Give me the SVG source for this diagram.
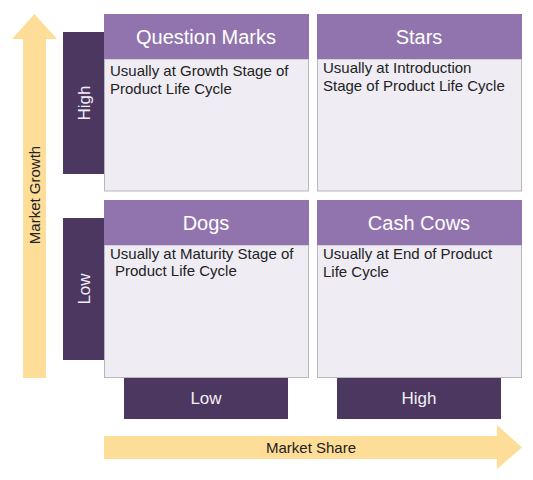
<svg xmlns="http://www.w3.org/2000/svg" width="533" height="480" viewBox="0 0 533 480">
<style>
.arrow{fill:#fedd98}
.bar{fill:#4b375f}
.head{fill:#9174ae}
.body{fill:#efecf4;stroke:#b8b8b8;stroke-width:1}
.title{font-family:"Liberation Sans",Arial,sans-serif;font-size:20px;fill:#ffffff;text-anchor:middle}
.lab{font-family:"Liberation Sans",Arial,sans-serif;font-size:17px;fill:#f2eff6;text-anchor:middle}
.txt{font-family:"Liberation Sans",Arial,sans-serif;font-size:15px;fill:#222222}
.axis{font-family:"Liberation Sans",Arial,sans-serif;font-size:15px;fill:#222222;text-anchor:middle}
</style>
<rect width="533" height="480" fill="#ffffff"/>
<g id="connectors">
<g id="market-growth">
<polygon class="arrow" points="23,378 46,378 46,39 57,39 34.5,14 12,39 23,39"/>
<text class="axis" transform="translate(40,195) rotate(-90)">Market Growth</text>
</g>
<g id="market-share">
<polygon class="arrow" points="104,436 497,436 497,425 522,447.5 497,469 497,459 104,459"/>
<text class="axis" x="311" y="453">Market Share</text>
</g>
</g>
<g id="growth-high">
<rect class="bar" x="63" y="32" width="41" height="142"/>
<text class="lab" transform="translate(90,103) rotate(-90)">High</text>
</g>
<g id="growth-low">
<rect class="bar" x="63" y="218" width="41" height="142"/>
<text class="lab" transform="translate(90,289) rotate(-90)">Low</text>
</g>
<g id="share-low">
<rect class="bar" x="124" y="378" width="164" height="41"/>
<text class="lab" x="206" y="404">Low</text>
</g>
<g id="share-high">
<rect class="bar" x="337" y="378" width="164" height="41"/>
<text class="lab" x="419" y="404">High</text>
</g>
<g id="question-marks">
<rect class="body" x="104.5" y="59" width="204" height="132"/>
<rect class="head" x="104" y="14" width="205" height="45"/>
<text class="title" x="206" y="44">Question Marks</text>
<text class="txt" x="110" y="76">Usually at Growth Stage of</text>
<text class="txt" x="110" y="94">Product Life Cycle</text>
</g>
<g id="stars">
<rect class="body" x="317.5" y="59" width="204" height="132"/>
<rect class="head" x="317" y="14" width="205" height="45"/>
<text class="title" x="419" y="44">Stars</text>
<text class="txt" x="323" y="73">Usually at Introduction</text>
<text class="txt" x="323" y="91">Stage of Product Life Cycle</text>
</g>
<g id="dogs">
<rect class="body" x="104.5" y="245" width="204" height="132.5"/>
<rect class="head" x="104" y="200" width="205" height="45"/>
<text class="title" x="206" y="230">Dogs</text>
<text class="txt" x="110" y="259">Usually at Maturity Stage of</text>
<text class="txt" x="115" y="276">Product Life Cycle</text>
</g>
<g id="cash-cows">
<rect class="body" x="317.5" y="245" width="204" height="132.5"/>
<rect class="head" x="317" y="200" width="205" height="45"/>
<text class="title" x="419" y="230">Cash Cows</text>
<text class="txt" x="323" y="259">Usually at End of Product</text>
<text class="txt" x="323" y="277">Life Cycle</text>
</g>
</svg>
